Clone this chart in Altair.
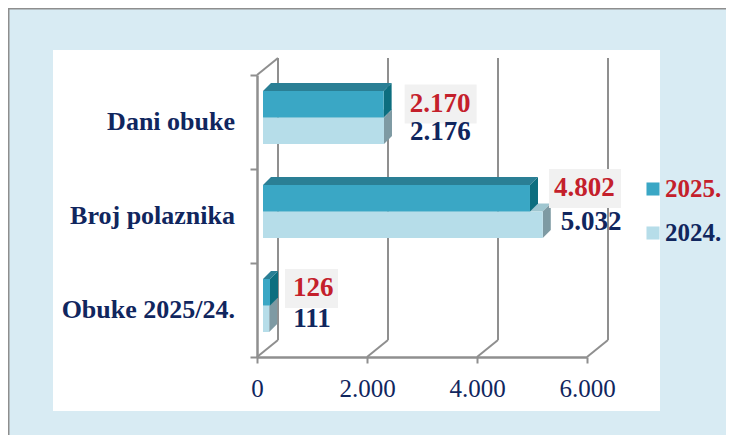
import altair as alt
import pandas as pd

# values
categories = ["Obuke 2025/24.", "Broj polaznika", "Dani obuke"]
values_2025 = [126, 4802, 2170]
values_2024 = [111, 5032, 2176]
labels_2025 = ["126", "4.802", "2.170"]
labels_2024 = ["111", "5.032", "2.176"]
x_ticks = [0, 2000, 4000, 6000]
legend_names = ["2025.", "2024."]

W, H = 718, 427
NAVY, RED = "#10265e", "#c4202b"
GRID = "#8f8f8f"
FONT = "Liberation Serif"
PX_X_AXIS = 0.055      # px per unit on the axis
PX_X_BAR = 0.0556      # px per unit along bars
PX_Y = 94.0            # px per category band
x_axis_scale = alt.Scale(domain=[0, 6000], range=[249, 579], nice=False, zero=False)
x_bar_scale = alt.Scale(domain=[0, 6000], range=[255, 255 + 6000 * PX_X_BAR], nice=False, zero=False)
y_scale = alt.Scale(domain=[0, 3], range=[349, 67], nice=False, zero=False)

BAR_D_X = 8 / PX_X_BAR
BAR_D_Y = 8 / PX_Y
WALL_D_X = 21 / PX_X_AXIS
WALL_D_Y = 17 / PX_Y
CENTER = 0.548
HALF = 26.5 / PX_Y


def X(field, s=x_bar_scale, **kw):
    return alt.X(field, type="quantitative", scale=s, axis=None, **kw)


def Y(field="y"):
    return alt.Y(field, type="quantitative", scale=y_scale, axis=None)


Y2 = alt.Y2("y2")
X2 = alt.X2("x2")

layers = []


def pixel_rect(x0, x1, y0, y1, color):
    return alt.Chart(pd.DataFrame({"a": [0]})).mark_rect(color=color).encode(
        x=alt.value(x0), x2=alt.value(x1), y=alt.value(y0), y2=alt.value(y1))


# frame, panel and white plot card
layers.append(pixel_rect(0, W, 0, H, "#8e8e8e"))
layers.append(pixel_rect(1.5, W, 1.5, H, "#d8ebf3"))
layers.append(pixel_rect(45, 652, 42, 403, "#ffffff"))

# back wall gridlines
grid = pd.DataFrame([{"x": t + WALL_D_X, "y": WALL_D_Y, "y2": 3 + WALL_D_Y} for t in x_ticks])
layers.append(alt.Chart(grid).mark_rule(color=GRID, strokeWidth=2).encode(
    x=X("x", x_axis_scale), y=Y(), y2=Y2))

# floor diagonals plus the top-left one
diag = []
for i, t in enumerate(x_ticks):
    diag += [{"k": i, "x": t, "y": 0}, {"k": i, "x": t + WALL_D_X, "y": WALL_D_Y}]
diag += [{"k": 9, "x": 0, "y": 3}, {"k": 9, "x": WALL_D_X, "y": 3 + WALL_D_Y}]
layers.append(alt.Chart(pd.DataFrame(diag)).mark_line(color=GRID, strokeWidth=2).encode(
    x=X("x", x_axis_scale), y=Y(), detail="k:N"))

# axes
axis_style = dict(
    domainColor=GRID, domainWidth=2.5, tickColor=GRID, tickWidth=2, grid=False, title=None, zindex=1)
layers.append(alt.Chart(pd.DataFrame({"x": x_ticks, "y": [0] * 4})).mark_point(opacity=0).encode(
    x=alt.X("x:Q", scale=x_axis_scale, axis=alt.Axis(
        orient="bottom", offset=349 - H, values=x_ticks, tickSize=6, labelPadding=13,
        labelFont=FONT, labelFontSize=25, labelColor=NAVY,
        labelExpr="replace(format(datum.value, ','), ',', '.')", labelFlush=False, **axis_style)),
    y=alt.Y("y:Q", scale=y_scale, axis=alt.Axis(
        orient="left", offset=-249, values=[0, 1, 2, 3], tickSize=7, labels=False, **axis_style)),
))

# 3-D bars
series = [
    (values_2024, 0, "#b6dde9", "#9fc6d0", "#7e9aa3"),
    (values_2025, 1, "#3aa7c5", "#2a7f95", "#0d6e7f"),
]
for vals, upper, front_c, top_c, side_c in series:
    front, top, side = [], [], []
    for i, v in enumerate(vals):
        yc = i + CENTER
        lo = yc if upper else yc - HALF
        hi = yc + HALF if upper else yc
        front.append({"x": 0, "x2": v, "y": lo, "y2": hi})
        top += [{"k": i, "x": 0, "x2": v, "y": hi},
                {"k": i, "x": BAR_D_X, "x2": v + BAR_D_X, "y": hi + BAR_D_Y}]
        side += [{"k": i, "x": v, "y": lo, "y2": hi},
                 {"k": i, "x": v + BAR_D_X, "y": lo + BAR_D_Y, "y2": hi + BAR_D_Y}]
    layers.append(alt.Chart(pd.DataFrame(top)).mark_area(orient="horizontal", color=top_c).encode(
        x=X("x"), x2=X2, y=Y(), detail="k:N"))
    layers.append(alt.Chart(pd.DataFrame(side)).mark_area(orient="vertical", color=side_c).encode(
        x=X("x"), y=Y(), y2=Y2, detail="k:N"))
    layers.append(alt.Chart(pd.DataFrame(front)).mark_rect(color=front_c).encode(
        x=X("x"), x2=X2, y=Y(), y2=Y2))

# grey boxes behind 2025 labels, in px from the bar end
BOX_GAP = [15 / PX_X_BAR, 19 / PX_X_BAR, 21 / PX_X_BAR]
BOX_W = [53 / PX_X_BAR, 72 / PX_X_BAR, 72 / PX_X_BAR]
DY_2025 = [17 / PX_Y, 23 / PX_Y, 13.5 / PX_Y]
DY_2024 = [-14 / PX_Y, -11 / PX_Y, -14.5 / PX_Y]
GAP_2025 = [23 / PX_X_BAR, 24 / PX_X_BAR, 26 / PX_X_BAR]
GAP_2024 = [24 / PX_X_BAR, 18 / PX_X_BAR, 26 / PX_X_BAR]
box = pd.DataFrame([{
    "x": v + BOX_GAP[i], "x2": v + BOX_GAP[i] + BOX_W[i],
    "y": i + CENTER + DY_2025[i] - 19.5 / PX_Y,
    "y2": i + CENTER + DY_2025[i] + 19.5 / PX_Y,
} for i, v in enumerate(values_2025)])
layers.append(alt.Chart(box).mark_rect(color="#f1f1f1").encode(
    x=X("x"), x2=X2, y=Y(), y2=Y2))

# value labels
lab25 = pd.DataFrame([{"x": v + GAP_2025[i], "y": i + CENTER + DY_2025[i], "t": labels_2025[i]}
                      for i, v in enumerate(values_2025)])
lab24 = pd.DataFrame([{"x": v + GAP_2024[i], "y": i + CENTER + DY_2024[i], "t": labels_2024[i]}
                      for i, v in enumerate(values_2024)])
text_style = dict(font=FONT, fontSize=27, fontWeight="bold", align="left", baseline="middle")
layers.append(alt.Chart(lab24).mark_text(color=NAVY, **text_style).encode(
    x=X("x"), y=Y(), text="t:N"))
layers.append(alt.Chart(lab25).mark_text(color=RED, **text_style).encode(
    x=X("x"), y=Y(), text="t:N"))

# category labels
cat = pd.DataFrame({"y": [i + 0.5 for i in range(3)], "t": categories})
layers.append(alt.Chart(cat).mark_text(
    color=NAVY, font=FONT, fontSize=26, fontWeight="bold", align="right", baseline="middle"
).encode(x=alt.value(227), y=Y(), text="t:N"))

# legend
for name, swatch, col, py in zip(legend_names, ["#3aa7c5", "#b6dde9"], [RED, NAVY], [181, 225]):
    one = pd.DataFrame({"t": [name]})
    layers.append(alt.Chart(one).mark_square(color=swatch, size=170, opacity=1).encode(
        x=alt.value(645), y=alt.value(py)))
    layers.append(alt.Chart(one).mark_text(
        color=col, font=FONT, fontSize=25, fontWeight="bold", align="left", baseline="middle"
    ).encode(x=alt.value(657), y=alt.value(py), text="t:N"))

chart = alt.layer(*layers).resolve_scale(x="independent", y="independent").properties(
    width=W, height=H, padding=0, autosize=alt.AutoSizeParams(type="none")
).configure_view(stroke=None)

chart.save("out.html", embed_options={"renderer": "svg", "actions": False})
